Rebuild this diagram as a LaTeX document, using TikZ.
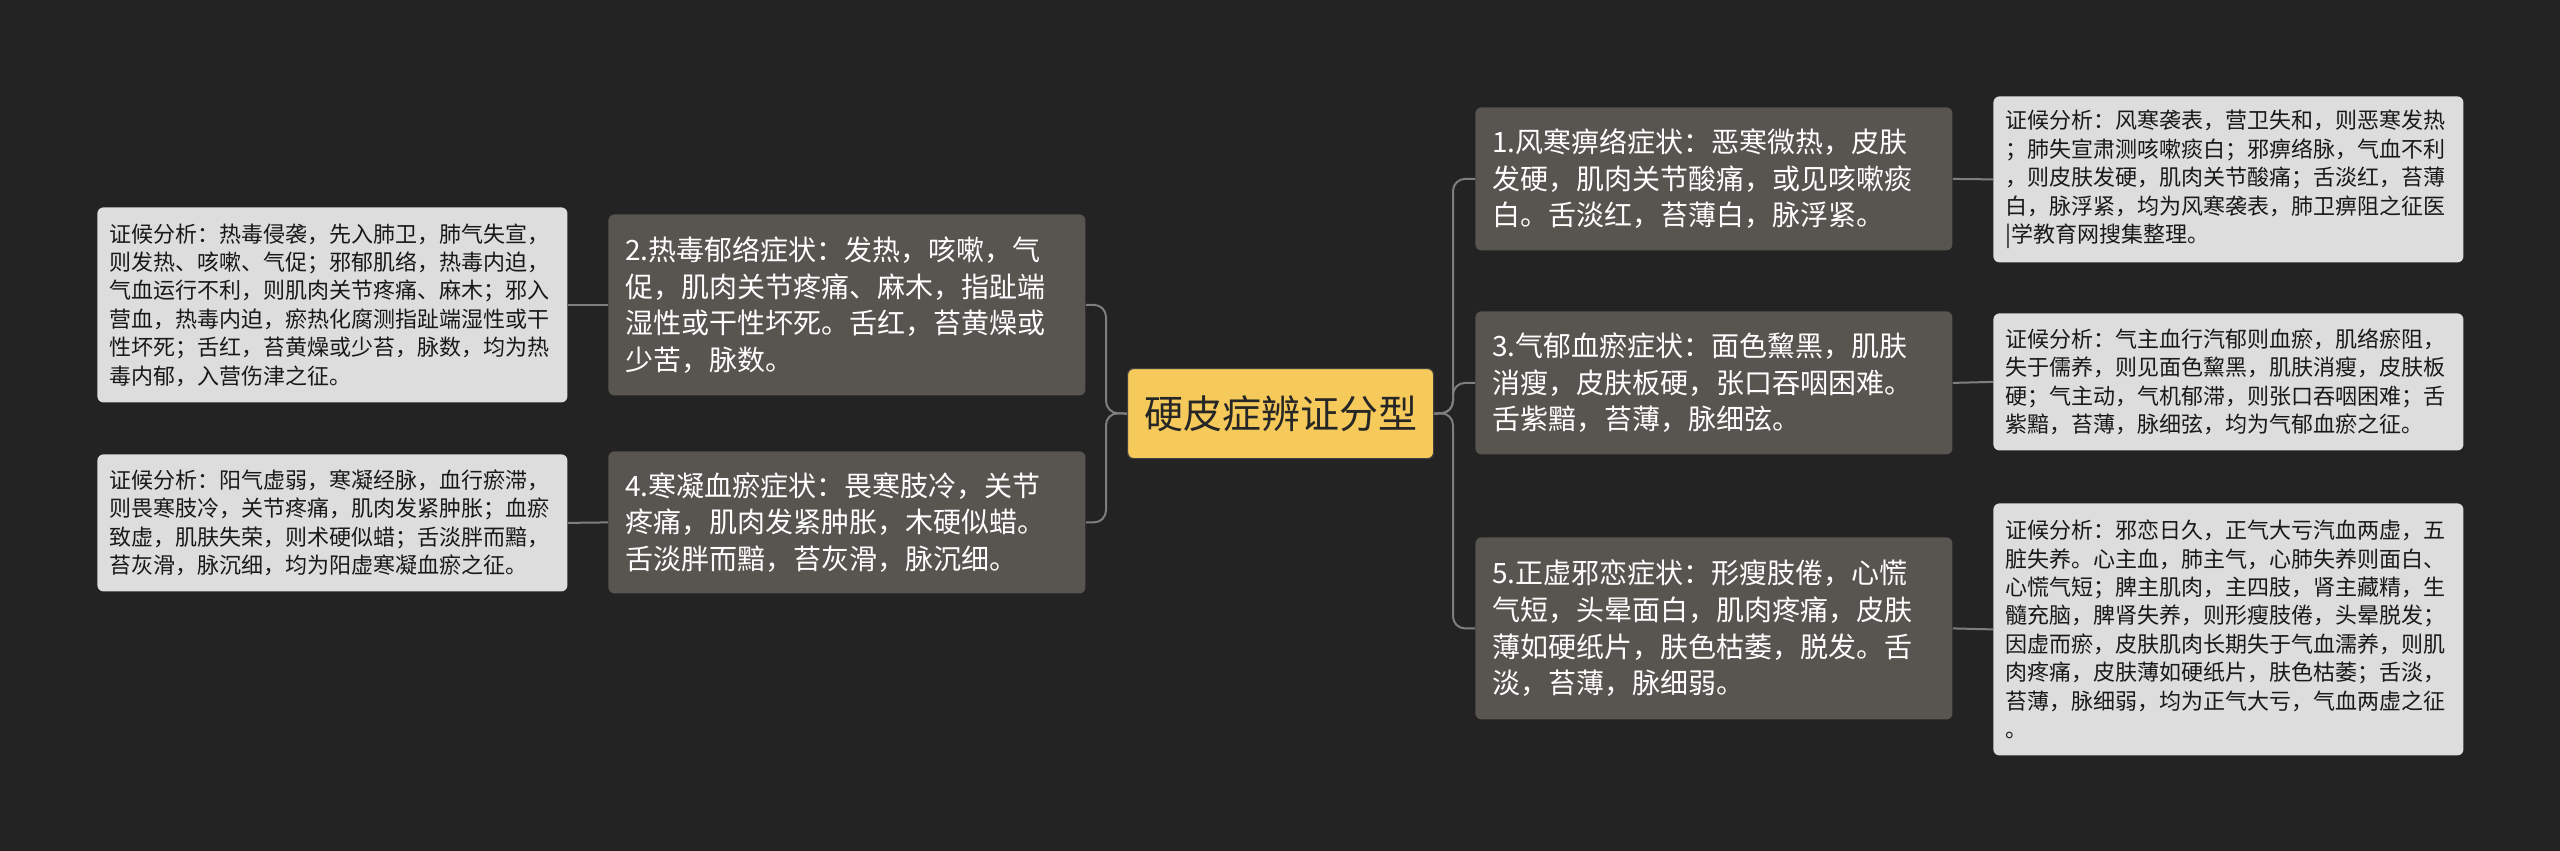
\documentclass[tikz,border=0pt]{standalone}
\usepackage{fontspec}
\newfontfamily\cjk{Noto Sans CJK SC}
\definecolor{bgdark}{HTML}{232323}
\definecolor{boxdark}{HTML}{58544F}
\definecolor{boxlight}{HTML}{DDDDDD}
\definecolor{topicyellow}{HTML}{F5C95A}
\definecolor{linegray}{HTML}{7E7E7E}

\begin{document}
\begin{tikzpicture}[x=0.5pt,y=-0.5pt]
% Define node styles
\tikzstyle{mainbox} = [anchor=north west, fill=topicyellow, draw=black!75, line width=0.6pt, rounded corners=3pt,
  minimum width=153pt, minimum height=45pt, inner sep=0pt, text=black!85, font=\cjk\fontsize{19.5}{22}\selectfont]
\tikzstyle{symbox} = [anchor=north west, fill=boxdark, rounded corners=3pt, inner xsep=8.5pt, inner ysep=2pt,
  text width=221.5pt, align=left, text=white, font=\cjk\fontsize{14}{18.3}\selectfont]
\tikzstyle{notebox} = [anchor=north west, fill=boxlight, rounded corners=3pt, inner xsep=6pt, inner ysep=2pt,
  text width=223pt, align=left, text=black!90, font=\cjk\fontsize{11}{14.2}\selectfont]
\tikzstyle{link} = [draw=linegray, line width=1pt, rounded corners=6pt]

\useasboundingbox (0,0) rectangle (2560,851);
\fill[bgdark] (0,0) rectangle (2560,851);

% Draw nodes
\node[mainbox] (root) at (1127,368) {硬皮症辨证分型};

\node[symbox, minimum height=71.5pt] (s1) at (1475,107) {1.风寒痹络症状：恶寒微热，皮肤\\发硬，肌肉关节酸痛，或见咳嗽痰\\白。舌淡红，苔薄白，脉浮紧。};
\node[symbox, minimum height=71.5pt] (s3) at (1475,311) {3.气郁血瘀症状：面色黧黑，肌肤\\消瘦，皮肤板硬，张口吞咽困难。\\舌紫黯，苔薄，脉细弦。};
\node[symbox, minimum height=91pt] (s5) at (1475,537) {5.正虚邪恋症状：形瘦肢倦，心慌\\气短，头晕面白，肌肉疼痛，皮肤\\薄如硬纸片，肤色枯萎，脱发。舌\\淡，苔薄，脉细弱。};
\node[symbox, minimum height=90.5pt] (s2) at (608,214) {2.热毒郁络症状：发热，咳嗽，气\\促，肌肉关节疼痛、麻木，指趾端\\湿性或干性坏死。舌红，苔黄燥或\\少苦，脉数。};
\node[symbox, minimum height=71pt] (s4) at (608,451) {4.寒凝血瘀症状：畏寒肢冷，关节\\疼痛，肌肉发紧肿胀，木硬似蜡。\\舌淡胖而黯，苔灰滑，脉沉细。};

\node[notebox, minimum height=83pt] (d1) at (1993,96) {证候分析：风寒袭表，营卫失和，则恶寒发热\\；肺失宣肃测咳嗽痰白；邪痹络脉，气血不利\\，则皮肤发硬，肌肉关节酸痛；舌淡红，苔薄\\白，脉浮紧，均为风寒袭表，肺卫痹阻之征医\\|学教育网搜集整理。};
\node[notebox, minimum height=68.5pt] (d3) at (1993,313) {证候分析：气主血行汽郁则血瘀，肌络瘀阻，\\失于儒养，则见面色黧黑，肌肤消瘦，皮肤板\\硬；气主动，气机郁滞，则张口吞咽困难；舌\\紫黯，苔薄，脉细弦，均为气郁血瘀之征。};
\node[notebox, minimum height=126pt] (d5) at (1993,503) {证候分析：邪恋日久，正气大亏汽血两虚，五\\脏失养。心主血，肺主气，心肺失养则面白、\\心慌气短；脾主肌肉，主四肢，肾主藏精，生\\髓充脑，脾肾失养，则形瘦肢倦，头晕脱发；\\因虚而瘀，皮肤肌肉长期失于气血濡养，则肌\\肉疼痛，皮肤薄如硬纸片，肤色枯萎；舌淡，\\苔薄，脉细弱，均为正气大亏，气血两虚之征\\。};
\node[notebox, minimum height=97.5pt] (d2) at (97,207) {证候分析：热毒侵袭，先入肺卫，肺气失宣，\\则发热、咳嗽、气促；邪郁肌络，热毒内迫，\\气血运行不利，则肌肉关节疼痛、麻木；邪入\\营血，热毒内迫，瘀热化腐测指趾端湿性或干\\性坏死；舌红，苔黄燥或少苔，脉数，均为热\\毒内郁，入营伤津之征。};
\node[notebox, minimum height=68.5pt] (d4) at (97,454) {证候分析：阳气虚弱，寒凝经脉，血行瘀滞，\\则畏寒肢冷，关节疼痛，肌肉发紧肿胀；血瘀\\致虚，肌肤失荣，则术硬似蜡；舌淡胖而黯，\\苔灰滑，脉沉细，均为阳虚寒凝血瘀之征。};

% Draw edges
\coordinate (rj) at (1453,413);
\coordinate (lj) at (1106,413);
\draw[link] (root.east) -- (rj) |- (s1.west);
\draw[link] (root.east) -- (rj) |- (s3.west);
\draw[link] (root.east) -- (rj) |- (s5.west);
\draw[link] (root.west) -- (lj) |- (s2.east);
\draw[link] (root.west) -- (lj) |- (s4.east);
\draw[link] (s1.east) -- (d1.west);
\draw[link] (s3.east) -- (d3.west);
\draw[link] (s5.east) -- (d5.west);
\draw[link] (s2.west) -- (d2.east);
\draw[link] (s4.west) -- (d4.east);
\end{tikzpicture}
\end{document}
